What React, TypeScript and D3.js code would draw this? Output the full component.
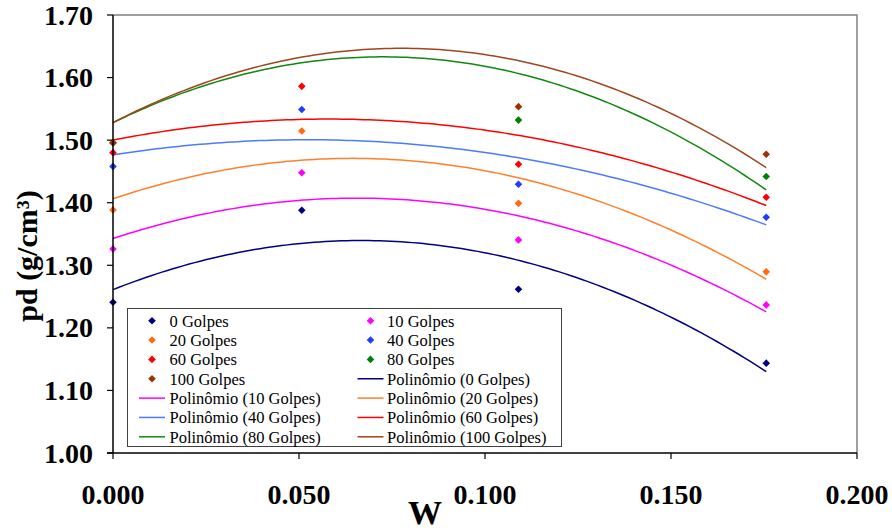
import React from "react";
import * as d3 from "d3";

// Water content (W) of the four test points
const wValues = [0.0, 0.05075, 0.109, 0.1756];

// Dry density (g/cm³) per compaction effort
const seriesNames = ["0 Golpes", "10 Golpes", "20 Golpes", "40 Golpes", "60 Golpes", "80 Golpes", "100 Golpes"];
const golpes0 = [1.241, 1.388, 1.2618, 1.1436];
const golpes10 = [1.326, 1.448, 1.3406, 1.2367];
const golpes20 = [1.3885, 1.5147, 1.399, 1.2895];
const golpes40 = [1.458, 1.549, 1.4296, 1.3768];
const golpes60 = [1.48, 1.586, 1.4615, 1.4088];
const golpes80 = [1.4955, 1.709, 1.532, 1.442];
const golpes100 = [1.496, 1.717, 1.5535, 1.4775];
const seriesValues = [golpes0, golpes10, golpes20, golpes40, golpes60, golpes80, golpes100];

const markerColors = ["#000080", "#FF00FF", "#FF6A13", "#1F3DFF", "#FF0000", "#008000", "#993300"];
const trendColors = ["#000080", "#FF00FF", "#FF7F2A", "#4D79FF", "#FF0000", "#118811", "#A0461C"];

const xTicks = [0, 0.05, 0.1, 0.15, 0.2];
const yTicks = [1.0, 1.1, 1.2, 1.3, 1.4, 1.5, 1.6, 1.7];

// Least-squares quadratic fit: returns [c0, c1, c2]
function fitQuadratic(xs: number[], ys: number[]): number[] {
  const n = xs.length;
  let s0 = n, s1 = 0, s2 = 0, s3 = 0, s4 = 0, t0 = 0, t1 = 0, t2 = 0;
  for (let i = 0; i < n; i++) {
    const x = xs[i], y = ys[i];
    s1 += x; s2 += x * x; s3 += x * x * x; s4 += x * x * x * x;
    t0 += y; t1 += x * y; t2 += x * x * y;
  }
  const A = [
    [s0, s1, s2, t0],
    [s1, s2, s3, t1],
    [s2, s3, s4, t2],
  ];
  for (let c = 0; c < 3; c++) {
    let p = c;
    for (let r = c + 1; r < 3; r++) if (Math.abs(A[r][c]) > Math.abs(A[p][c])) p = r;
    [A[c], A[p]] = [A[p], A[c]];
    for (let r = 0; r < 3; r++) {
      if (r === c) continue;
      const f = A[r][c] / A[c][c];
      for (let k = c; k < 4; k++) A[r][k] -= f * A[c][k];
    }
  }
  return [A[0][3] / A[0][0], A[1][3] / A[1][1], A[2][3] / A[2][2]];
}

const W = 892;
const H = 531;
const left = 113;
const right = 857;
const top = 15;
const bottom = 453;

const serif = "'Liberation Serif', 'Times New Roman', serif";

function diamond(cx: number, cy: number, r: number) {
  return `M${cx},${cy - r}L${cx + r},${cy}L${cx},${cy + r}L${cx - r},${cy}Z`;
}

export default function App() {
  const x = d3.scaleLinear().domain([0, 0.2]).range([left, right]);
  const y = d3.scaleLinear().domain([1.0, 1.7]).range([bottom, top]);

  const xMin = d3.min(wValues) as number;
  const xMax = d3.max(wValues) as number;
  const samples = d3.range(0, 121).map((i) => xMin + ((xMax - xMin) * i) / 120);

  const trendPaths = seriesValues.map((vals) => {
    const [c0, c1, c2] = fitQuadratic(wValues, vals);
    const line = d3
      .line<number>()
      .x((w) => x(w))
      .y((w) => y(c0 + c1 * w + c2 * w * w));
    return line(samples) as string;
  });

  // Legend entries: markers first, then trendlines, laid out in two columns
  const legendItems = [
    ...seriesNames.map((n, i) => ({ label: n, kind: "marker", i })),
    ...seriesNames.map((n, i) => ({ label: `Polinômio (${n})`, kind: "line", i })),
  ];
  const legX = 127.5;
  const legY = 308.5;
  const legW = 434;
  const legH = 138;
  const rowStep = 19.35;
  const rowStart = 320.7;
  const colSymbol = [152, 370.5];
  const colText = [169.5, 387];

  return (
    <svg width={W} height={H} style={{ position: "absolute", left: 0, top: 0, background: "#fff" }}>
      <rect x={0} y={0} width={W} height={H} fill="#fff" />
      {/* plot area border */}
      <path d={`M${left},${top}H${right}V${bottom}`} fill="none" stroke="#808080" strokeWidth={1.5} />

      {/* trendlines */}
      {trendPaths.map((d, i) => (
        <path key={`t${i}`} d={d} fill="none" stroke={trendColors[i]} strokeWidth={1.5} />
      ))}

      {/* data points (values outside the axis range are not shown) */}
      {seriesValues.map((vals, si) =>
        vals.map((v, j) =>
          v >= 1.0 && v <= 1.7 ? (
            <path key={`p${si}-${j}`} d={diamond(x(wValues[j]), y(v), 3.8)} fill={markerColors[si]} />
          ) : null
        )
      )}

      {/* axes */}
      <line x1={left} x2={left} y1={top} y2={bottom} stroke="#000" strokeWidth={1.5} />
      <line x1={left - 6} x2={right} y1={bottom} y2={bottom} stroke="#000" strokeWidth={1.5} />
      {yTicks.map((t) => (
        <g key={`yt${t}`}>
          <line x1={left - 6} x2={left} y1={y(t)} y2={y(t)} stroke="#000" strokeWidth={1.2} />
          <text
            x={93}
            y={y(t) + 9.5}
            textAnchor="end"
            fontFamily={serif}
            fontWeight="bold"
            fontSize={28}
          >
            {t.toFixed(2)}
          </text>
        </g>
      ))}
      {xTicks.map((t) => (
        <g key={`xt${t}`}>
          <line x1={x(t)} x2={x(t)} y1={bottom} y2={bottom + 6} stroke="#000" strokeWidth={1.2} />
          <text
            x={x(t)}
            y={503.5}
            textAnchor="middle"
            fontFamily={serif}
            fontWeight="bold"
            fontSize={28}
          >
            {t.toFixed(3)}
          </text>
        </g>
      ))}

      {/* axis titles */}
      <text
        x={425}
        y={524}
        textAnchor="middle"
        fontFamily={serif}
        fontWeight="bold"
        fontSize={34}
      >
        W
      </text>
      <text
        transform={`translate(37,256) rotate(-90)`}
        textAnchor="middle"
        fontFamily={serif}
        fontWeight="bold"
        fontSize={30}
      >
        pd (g/cm³)
      </text>

      {/* legend */}
      <rect x={legX} y={legY} width={legW} height={legH} fill="#fff" stroke="#404040" strokeWidth={1} />
      {legendItems.map((item, k) => {
        const row = Math.floor(k / 2);
        const col = k % 2;
        const cy = rowStart + row * rowStep;
        const sx = colSymbol[col];
        return (
          <g key={`l${k}`}>
            {item.kind === "marker" ? (
              <path d={diamond(sx, cy, 3.8)} fill={markerColors[item.i]} />
            ) : (
              <line x1={sx - 13} x2={sx + 13} y1={cy} y2={cy} stroke={trendColors[item.i]} strokeWidth={1.5} />
            )}
            <text x={colText[col]} y={cy + 5.8} fontFamily={serif} fontSize={16.5} fill="#000">
              {item.label}
            </text>
          </g>
        );
      })}
    </svg>
  );
}
